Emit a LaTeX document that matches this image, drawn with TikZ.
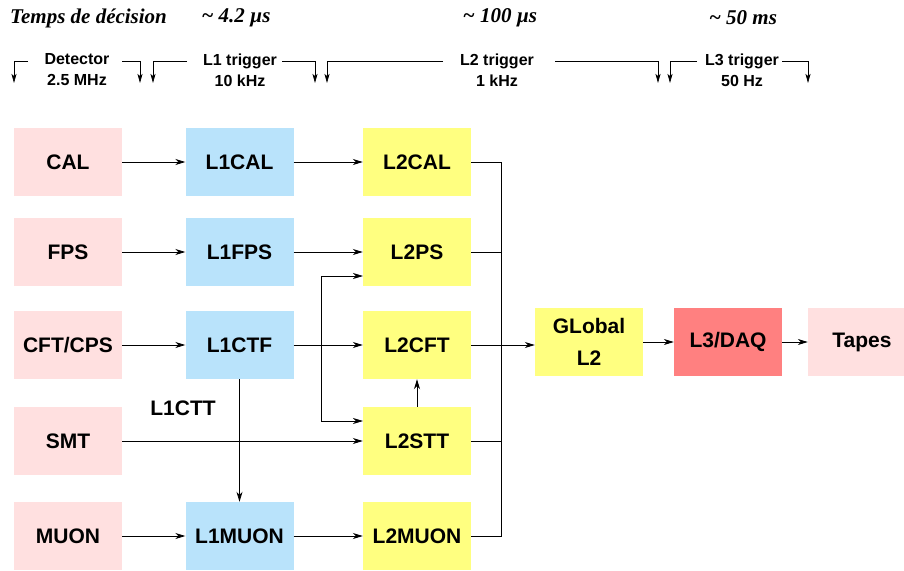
\documentclass[tikz,border=0pt]{standalone}
\usepackage{fontspec}
\setmainfont{Liberation Sans}
\newfontfamily\tempsfont{Liberation Serif}
\usepackage{tikz}
\usetikzlibrary{arrows.meta,positioning}
\definecolor{detpink}{RGB}{255,224,224}
\definecolor{loneblue}{RGB}{185,227,251}
\definecolor{ltwoyellow}{RGB}{255,255,128}
\definecolor{lthreered}{RGB}{255,128,128}

\begin{document}
\begin{tikzpicture}[x=1pt,y=-1pt,
  box/.style={minimum width=108pt,minimum height=68pt,inner sep=0pt,align=center,
    font=\fontsize{21}{32}\selectfont\bfseries},
  det/.style={box,fill=detpink},
  lone/.style={box,fill=loneblue},
  ltwo/.style={box,fill=ltwoyellow},
  conn/.style={line width=0.8pt,-{Stealth[length=10pt,width=6pt,inset=3pt]}},
  wire/.style={line width=0.8pt},
  tick/.style={line width=0.7pt,-{Stealth[length=9pt,width=5pt,inset=2pt]}},
  stage/.style={font=\fontsize{16}{21}\selectfont\bfseries,align=center,inner sep=0pt},
  timing/.style={font=\tempsfont\fontsize{21}{24}\selectfont\bfseries\itshape,inner sep=0pt}]
\useasboundingbox (0,0) rectangle (904,570);

\begin{scope} % decision times
\node[timing,anchor=west] (temps) at (10,18) {Temps de décision};
\node[timing] (tone) at (236,18) {\char"007E{} 4.2 µs};
\node[timing] (ttwo) at (500,18) {\char"007E{} 100 µs};
\node[timing] (tthree) at (743,18) {\char"007E{} 50 ms};
\end{scope}
%

\begin{scope} % trigger levels
\node[stage] (sdet) at (77,70) {Detector\\2.5 MHz};
\node[stage] (sone) at (240,70) {L1 trigger\\10 kHz};
\node[stage] (stwo) at (497,70) {L2 trigger\\1 kHz};
\node[stage] (sthree) at (742,70) {L3 trigger\\50 Hz};
\foreach \a/\b/\c/\d in {14/28/122/140,153/187/282/315,327/443/555/658,670/697/782/808}
{\draw[tick] (\b,61) -| (\a,83);
 \draw[tick] (\c,61) -| (\d,83);}
\end{scope}
%

\begin{scope} % detectors
\node[det] (cal) at (68,162) {CAL};
\node[det] (fps) at (68,252) {FPS};
\node[det] (cft) at (68,345) {CFT/CPS};
\node[det] (smt) at (68,441) {SMT};
\node[det] (muon) at (68,536) {MUON};
\end{scope}
%

\begin{scope} % level 1
\node[lone] (lcal) at (239.5,162) {L1CAL};
\node[lone] (lfps) at (239.5,252) {L1FPS};
\node[lone] (lctf) at (239.5,345) {L1CTF};
\node[lone] (lmuon) at (239.5,536) {L1MUON};
\node[font=\fontsize{21}{24}\selectfont\bfseries,inner sep=0pt] (lctt) at (183,408) {L1CTT};
\end{scope}
%

\begin{scope} % level 2
\node[ltwo] (mcal) at (417,162) {L2CAL};
\node[ltwo] (mps) at (417,252) {L2PS};
\node[ltwo] (mcft) at (417,345) {L2CFT};
\node[ltwo] (mstt) at (417,441) {L2STT};
\node[ltwo] (mmuon) at (417,536) {L2MUON};
\node[ltwo] (glob) at (589,342) {GLobal\\L2};
\node[box,fill=lthreered] (daq) at (728,342) {L3/DAQ};
\node[det] (tapes) at (862,342) {Tapes};
\end{scope}
%

\coordinate (tap) at (321,345);
\coordinate (psin) at (363,276);
\coordinate (sttin) at (363,421);
\coordinate (bus) at (501,162);
\draw[conn] (cal)--(lcal);
\draw[conn] (lcal)--(mcal);
\draw[conn] (fps)--(lfps);
\draw[conn] (lfps)--(mps);
\draw[conn] (cft)--(lctf);
\draw[conn] (lctf)--(mcft);
\draw[conn] (smt)--(mstt);
\draw[conn] (muon)--(lmuon);
\draw[conn] (lmuon)--(mmuon);
\draw[conn] (lctf)--(lmuon);
\draw[conn] (mstt)--(mcft);
\draw[conn] (tap) |- (psin);
\draw[conn] (tap) |- (sttin);
%
\draw[wire] (mcal.east) -- (bus |- mcal.east) -- (bus |- mmuon.east) -- (mmuon.east);
\foreach \x in {mps,mstt}
\draw[wire] (\x.east) -- (bus |- \x.east);
\draw[conn] (mcft.east) -- (mcft.east -| glob.west);
\draw[conn] (glob)--(daq);
\draw[conn] (daq)--(tapes);
\end{tikzpicture}
\end{document}
